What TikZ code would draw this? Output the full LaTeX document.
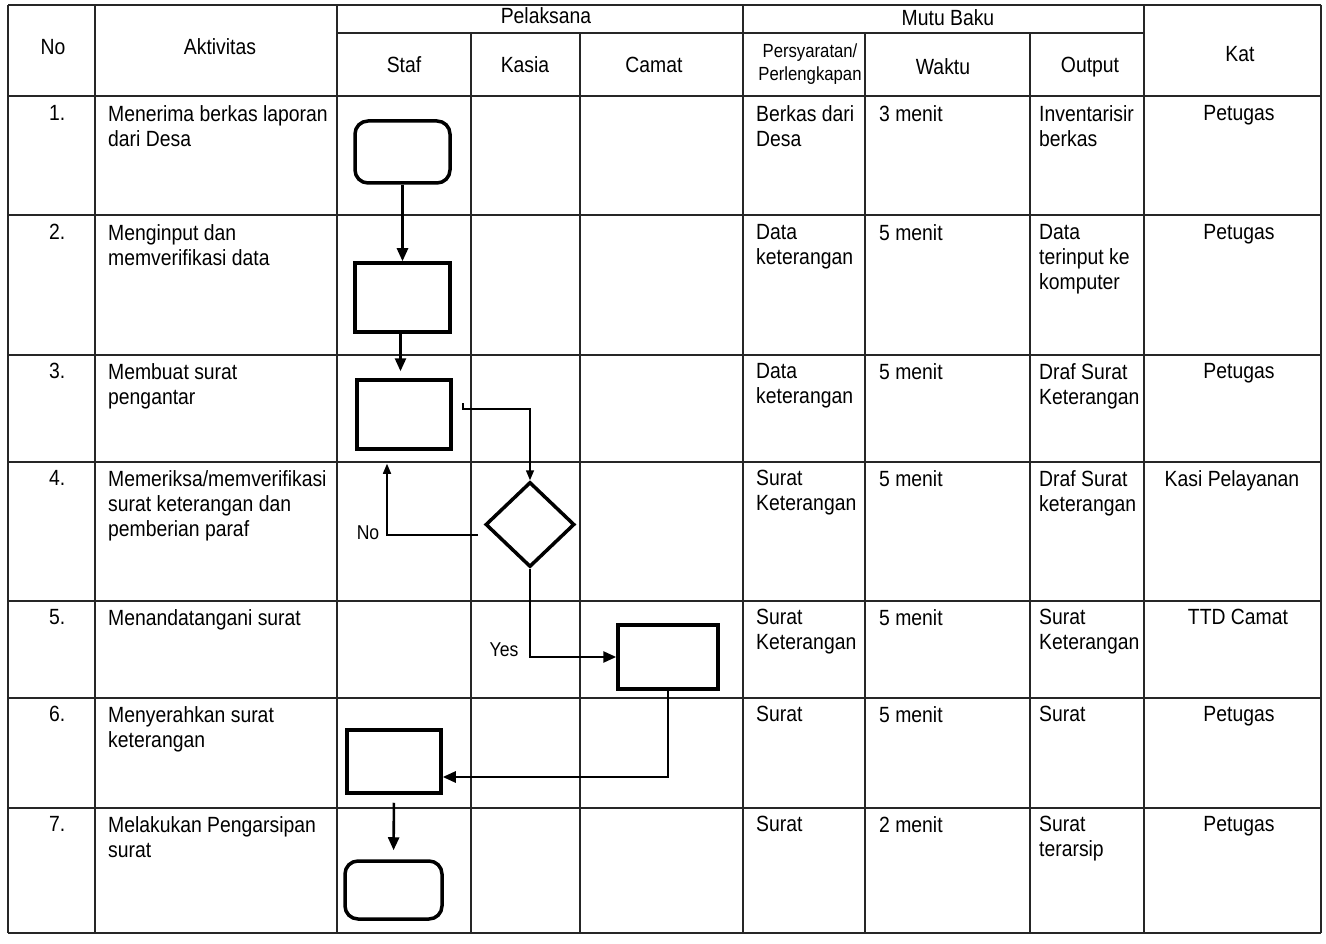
\documentclass[tikz,border=0pt]{standalone}
\usepackage{fontspec}
\setmainfont[FakeStretch=0.88]{Liberation Sans}
\usetikzlibrary{arrows.meta,shapes.geometric,calc}
\begin{document}
\begin{tikzpicture}[x=1pt,y=-1pt,
  grid/.style={line width=1.5pt, black!85},
  txt/.style={anchor=north west, align=left, inner sep=0pt, font=\fontsize{22}{25}\selectfont},
  ctr/.style={anchor=center, align=center, inner sep=0pt, font=\fontsize{22}{25}\selectfont},
  small/.style={anchor=center, align=center, inner sep=0pt, font=\fontsize{19}{23}\selectfont},
  kat/.style={anchor=north, align=center, inner sep=0pt, font=\fontsize{22}{25}\selectfont},
  proc/.style={draw, line width=3.5pt, rectangle, inner sep=0pt},
  term/.style={proc, rounded corners=13pt},
  dec/.style={draw, line width=3.5pt, diamond, inner sep=0pt, minimum width=89pt, minimum height=85pt},
  flow/.style={line width=2.6pt, -{Triangle[length=13pt,width=11pt]}},
  thin/.style={line width=1.5pt, -{Triangle[length=10pt,width=8pt]}},
  lbl/.style={anchor=center, inner sep=0pt, font=\fontsize{20}{22}\selectfont}
]
\useasboundingbox (0,0) rectangle (1326,944);
\fill[white] (0,0) rectangle (1326,944);

% ---- grid ----
\def\Xa{8}\def\Xb{95}\def\Xc{337}\def\Xd{471}\def\Xe{580}\def\Xf{743}\def\Xg{865}\def\Xh{1030}\def\Xi{1144}\def\Xj{1321}
\draw[grid] (\Xa,5) -- (\Xj,5);
\draw[grid] (\Xc,33) -- (\Xi,33);
\foreach \y in {96,215,355,462,601,698,808,933} \draw[grid] (\Xa,\y) -- (\Xj,\y);
\foreach \x in {\Xa,\Xb,\Xc,\Xf,\Xi,\Xj} \draw[grid] (\x,5) -- (\x,933);
\foreach \x in {\Xd,\Xe,\Xg,\Xh} \draw[grid] (\x,33) -- (\x,933);

% ---- header ----
\node[ctr] (hno) at (53,47) {No};
\node[ctr] (hakt) at (220,47) {Aktivitas};
\node[ctr] (hpel) at (546,16) {Pelaksana};
\node[ctr] (hstaf) at (404,65) {Staf};
\node[ctr] (hkasia) at (525,65) {Kasia};
\node[ctr] (hcamat) at (654,65) {Camat};
\node[ctr] (hmutu) at (948,18) {Mutu Baku};
\node[small] (hpers) at (810,64) {Persyaratan/\\Perlengkapan};
\node[ctr] (hwaktu) at (943,67) {Waktu};
\node[ctr] (houtput) at (1090,67) {Output};
\node[ctr] (hkat) at (1240,54) {Kat};

% ---- row 1 ----
\node[txt] (n1) at (49,105) {1.};
\node[txt] (a1) at (108,105) {Menerima berkas laporan\\dari Desa};
\node[txt] (p1) at (756,105) {Berkas dari\\Desa};
\node[txt] (w1) at (879,105) {3 menit};
\node[txt] (o1) at (1039,105) {Inventarisir\\berkas};
\node[kat] (k1) at (1239,105) {Petugas};
% ---- row 2 ----
\node[txt] (n2) at (49,224) {2.};
\node[txt] (a2) at (108,224) {Menginput dan\\memverifikasi data};
\node[txt] (p2) at (756,224) {Data\\keterangan};
\node[txt] (w2) at (879,224) {5 menit};
\node[txt] (o2) at (1039,224) {Data\\terinput ke\\komputer};
\node[kat] (k2) at (1239,224) {Petugas};
% ---- row 3 ----
\node[txt] (n3) at (49,363) {3.};
\node[txt] (a3) at (108,363) {Membuat surat\\pengantar};
\node[txt] (p3) at (756,363) {Data\\keterangan};
\node[txt] (w3) at (879,363) {5 menit};
\node[txt] (o3) at (1039,363) {Draf Surat\\Keterangan};
\node[kat] (k3) at (1239,363) {Petugas};
% ---- row 4 ----
\node[txt] (n4) at (49,470) {4.};
\node[txt] (a4) at (108,470) {Memeriksa/memverifikasi\\surat keterangan dan\\pemberian paraf};
\node[txt] (p4) at (756,470) {Surat\\Keterangan};
\node[txt] (w4) at (879,470) {5 menit};
\node[txt] (o4) at (1039,470) {Draf Surat\\keterangan};
\node[kat] (k4) at (1232,470) {Kasi Pelayanan};
% ---- row 5 ----
\node[txt] (n5) at (49,609) {5.};
\node[txt] (a5) at (108,609) {Menandatangani surat};
\node[txt] (p5) at (756,609) {Surat\\Keterangan};
\node[txt] (w5) at (879,609) {5 menit};
\node[txt] (o5) at (1039,609) {Surat\\Keterangan};
\node[kat] (k5) at (1238,609) {TTD Camat};
% ---- row 6 ----
\node[txt] (n6) at (49,706) {6.};
\node[txt] (a6) at (108,706) {Menyerahkan surat\\keterangan};
\node[txt] (p6) at (756,706) {Surat};
\node[txt] (w6) at (879,706) {5 menit};
\node[txt] (o6) at (1039,706) {Surat};
\node[kat] (k6) at (1239,706) {Petugas};
% ---- row 7 ----
\node[txt] (n7) at (49,816) {7.};
\node[txt] (a7) at (108,816) {Melakukan Pengarsipan\\surat};
\node[txt] (p7) at (756,816) {Surat};
\node[txt] (w7) at (879,816) {2 menit};
\node[txt] (o7) at (1039,816) {Surat\\terarsip};
\node[kat] (k7) at (1239,816) {Petugas};

% ---- flow shapes ----
\node[term, minimum width=95pt, minimum height=62pt] (t1) at (402.5,152) {};
\node[proc, minimum width=95pt, minimum height=69pt] (r2) at (402.5,297.5) {};
\node[proc, minimum width=94pt, minimum height=69pt] (r3) at (404,414.5) {};
\node[dec] (d4) at (530,524.5) {};
\node[proc, minimum width=100pt, minimum height=64pt] (r5) at (668,657) {};
\node[proc, minimum width=94pt, minimum height=63pt] (r6) at (394,761.5) {};
\node[term, minimum width=97pt, minimum height=58pt] (t7) at (393.5,890) {};

% ---- connectors ----
\draw[flow] (t1.south) -- (r2.north);
\draw[flow, shorten >=7pt] ([xshift=-2pt]r2.south) -- ([xshift=-2pt]r2.south |- r3.north);
\coordinate (c3) at (463,403);
\draw[thin] (c3) -- ++(0,6) -| (d4.north);
\coordinate (c4) at (478,535);
\draw[thin] (c4) -| ($(r3.south)+(-17,13)$);
\node[lbl] (no) at (368,533) {No};
\draw[flow] (d4.south) |- (r5.west);
\node[lbl] (yes) at (504,650) {Yes};
\draw[flow] (r5.south) |- ($(r6.east)+(0,15.5)$);
\draw[flow, shorten <=8pt, shorten >=9pt] (r6.south) -- (t7.north);
\end{tikzpicture}
\end{document}
